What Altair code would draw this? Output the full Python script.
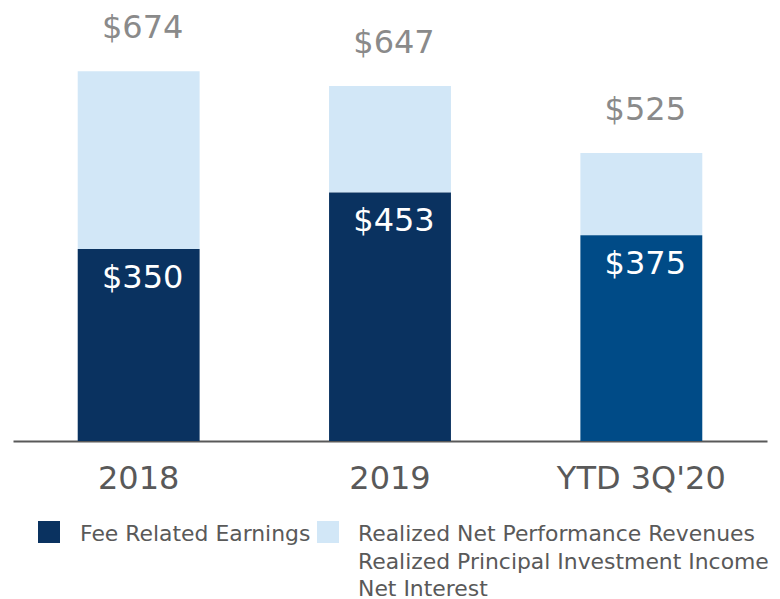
import altair as alt
import pandas as pd

categories = ["2018", "2019", "YTD 3Q'20"]
fee_related = [350, 453, 375]
totals = [674, 647, 525]
series = [
    "Fee Related Earnings",
    "Realized Net Performance Revenues\nRealized Principal Investment Income\nNet Interest",
]

DARK = "#0A3260"
DARK_YTD = "#004B87"
LIGHT = "#D2E7F7"
FONT = "DejaVu Sans"

df = pd.DataFrame({
    "category": categories,
    "fre": fee_related,
    "total": totals,
})
df["fre_label"] = ["$" + str(v) for v in fee_related]
df["total_label"] = ["$" + str(v) for v in totals]

x_enc = alt.X(
    "category:N",
    sort=categories,
    scale=alt.Scale(paddingInner=0.515, paddingOuter=0.2575),
    axis=alt.Axis(
        title=None, labelAngle=0, ticks=False, labelFont=FONT, labelFontSize=32,
        labelColor="#595959", labelPadding=22, domainColor="#595959", domainWidth=2,
        grid=False,
    ),
)
y_scale = alt.Scale(domain=[0, 780])

base = alt.Chart(df).encode(x=x_enc)

top = base.mark_bar(color=LIGHT).encode(
    y=alt.Y("total:Q", scale=y_scale, axis=None),
    y2="fre:Q",
)
bottom = base.mark_bar().encode(
    y=alt.Y("fre:Q", scale=y_scale, axis=None),
    color=alt.condition(
        "datum.category === \"YTD 3Q'20\"", alt.value(DARK_YTD), alt.value(DARK)
    ),
)
total_text = base.mark_text(
    font=FONT, fontSize=32, color="#8A8A8A", baseline="alphabetic", dy=-33, dx=4
).encode(y=alt.Y("total:Q", scale=y_scale), text="total_label:N")
fre_text = base.mark_text(
    font=FONT, fontSize=32, color="white", baseline="alphabetic", dy=39, dx=4
).encode(y=alt.Y("fre:Q", scale=y_scale), text="fre_label:N")

legend_colors = [DARK, LIGHT]
sq_x = [36, 315]
txt_x = [67, 345]
legend_layers = []
for i, name in enumerate(series):
    ldf = pd.DataFrame({"label": [name]})
    sq = alt.Chart(ldf).mark_square(size=484, color=legend_colors[i], opacity=1).encode(
        x=alt.value(sq_x[i]), y=alt.value(519)
    )
    tx = alt.Chart(ldf).mark_text(
        font=FONT, fontSize=21.9, color="#595959", align="left", baseline="alphabetic",
        lineBreak="\n", lineHeight=27.5,
    ).encode(x=alt.value(txt_x[i]), y=alt.value(528), text="label:N")
    legend_layers += [sq, tx]

chart = alt.layer(top, bottom, total_text, fre_text, *legend_layers).properties(
    width=754, height=428,
    autosize=alt.AutoSizeParams(type="none"),
    padding={"left": 5, "top": 5, "right": 5, "bottom": 170},
).configure_view(strokeWidth=0)

chart.save("out.html", embed_options={"renderer": "svg", "actions": False})
